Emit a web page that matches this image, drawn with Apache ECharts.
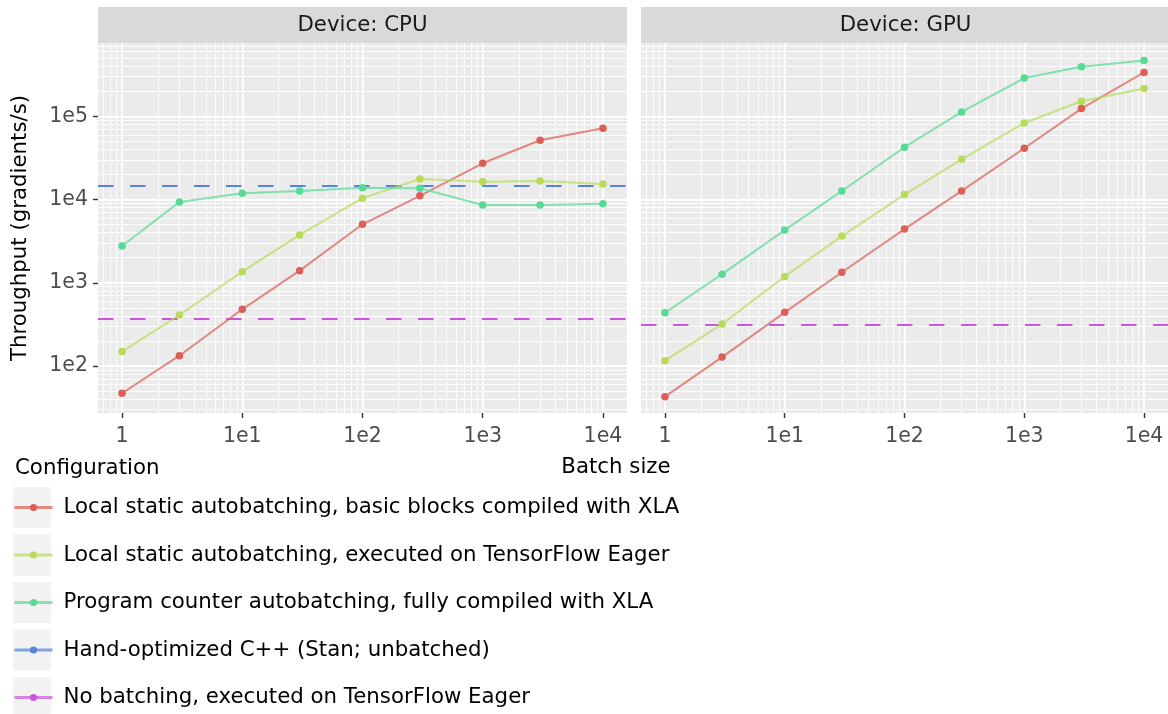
<!DOCTYPE html>
<html><head><meta charset="utf-8">
<script src="https://cdn.jsdelivr.net/npm/echarts@6/dist/echarts.min.js"></script>
<style>html,body{margin:0;padding:0;background:#fff}#c{width:1168px;height:714px}</style>
</head><body><div id="c"></div>
<script>
// ---------------- data ----------------
const batchSizes = [1, 3, 10, 30, 100, 300, 1000, 3000, 10000];
const seriesNames = [
  'Local static autobatching, basic blocks compiled with XLA',
  'Local static autobatching, executed on TensorFlow Eager',
  'Program counter autobatching, fully compiled with XLA',
  'Hand-optimized C++ (Stan; unbatched)',
  'No batching, executed on TensorFlow Eager'
];
const cpuLocalXLA       = [47, 133, 480, 1400, 5050, 11100, 27300, 51700, 72000];
const cpuLocalEager     = [149, 410, 1360, 3760, 10400, 17700, 16400, 16700, 15400];
const cpuProgramCounter = [2770, 9350, 11900, 12700, 13900, 13700, 8600, 8600, 8930];
const cpuStan = 14700;
const cpuNoBatching = 374;
const gpuLocalXLA       = [42.8, 128, 441, 1340, 4420, 12700, 41400, 124000, 338000];
const gpuLocalEager     = [116, 319, 1190, 3640, 11500, 30500, 83400, 152000, 216000];
const gpuProgramCounter = [436, 1270, 4300, 12700, 42600, 113000, 289000, 396000, 471000];
const gpuNoBatching = 310;
const xTicks = [1, 10, 100, 1000, 10000];
const xTickLabels = ['1', '1e1', '1e2', '1e3', '1e4'];
const yTicks = [100, 1000, 10000, 100000];
const yTickLabels = ['1e2', '1e3', '1e4', '1e5'];
const panelTitles = ['Device: CPU', 'Device: GPU'];
const colors = ['#db5f57', '#b9db57', '#57db94', '#5784db', '#c957db'];

// ---------------- layout / style ----------------
const FONT = 'DejaVu Sans';
const TXT = 21.3;
const X_MIN = Math.pow(10, -0.2), X_MAX = Math.pow(10, 4.2);
const Y_MIN = Math.pow(10, 1.435), Y_MAX = Math.pow(10, 5.882);
const panels = [{left: 98, width: 529}, {left: 641, width: 529}];
const TOP = 43, HEIGHT = 370;

function minorBreaks(lo, hi) {
  const out = [];
  for (let e = -2; e <= 7; e++) for (let k = 2; k <= 9; k++) {
    const v = +(k * Math.pow(10, e)).toPrecision(3);
    if (v > lo && v < hi) out.push(v);
  }
  return out;
}
const xMinor = minorBreaks(X_MIN, X_MAX);
const yMinor = minorBreaks(Y_MIN, Y_MAX);

function labelFor(v, ticks, labels) {
  for (let i = 0; i < ticks.length; i++) {
    if (Math.abs(Math.log10(v) - Math.log10(ticks[i])) < 1e-6) return labels[i];
  }
  return '';
}
function pairs(ys) { return batchSizes.map((x, i) => [x, ys[i]]); }

const grids = panels.map(p => ({left: p.left, top: TOP, width: p.width, height: HEIGHT,
  show: true, backgroundColor: '#ebebeb', borderWidth: 0, containLabel: false}));

const xAxes = panels.map((p, i) => ({
  type: 'log', logBase: 10, gridIndex: i, min: X_MIN, max: X_MAX,
  axisLine: {show: false},
  axisTick: {show: true, length: 5, lineStyle: {color: '#333333', width: 1.4}, customValues: xTicks},
  axisLabel: {customValues: xTicks, formatter: v => labelFor(v, xTicks, xTickLabels),
    color: '#4d4d4d', fontSize: 20.5, fontFamily: FONT, margin: 13},
  splitLine: {show: true, lineStyle: {color: '#ffffff', width: 1.8}},
  minorTick: {show: false}, minorSplitLine: {show: false}
}));

const yAxes = panels.map((p, i) => ({
  type: 'log', logBase: 10, gridIndex: i, min: Y_MIN, max: Y_MAX,
  name: i === 0 ? 'Throughput (gradients/s)' : '',
  nameLocation: 'middle', nameGap: 67,
  nameTextStyle: {fontSize: TXT, fontFamily: FONT, color: '#000'},
  axisLine: {show: false},
  axisTick: {show: i === 0, length: 5, lineStyle: {color: '#333333', width: 1.4}, customValues: yTicks},
  axisLabel: {show: i === 0, customValues: yTicks, formatter: v => labelFor(v, yTicks, yTickLabels),
    color: '#4d4d4d', fontSize: 20.5, fontFamily: FONT, margin: 10},
  splitLine: {show: true, lineStyle: {color: '#ffffff', width: 1.8}},
  minorTick: {show: false}, minorSplitLine: {show: false}
}));

const series = [];
// minor grid lines (log-spaced 2..9 breaks), drawn through the axes
panels.forEach((p, i) => {
  series.push({
    type: 'line', name: '__grid' + i, xAxisIndex: i, yAxisIndex: i, data: [], silent: true, z: 1,
    markLine: {silent: true, z: 1, symbol: 'none', animation: false, label: {show: false},
      lineStyle: {color: '#ffffff', width: 0.9, type: 'solid', opacity: 1},
      emphasis: {disabled: true},
      data: xMinor.map(v => ({xAxis: v})).concat(yMinor.map(v => ({yAxis: v})))}
  });
});

function curve(name, color, ys, gi) {
  return {type: 'line', name, xAxisIndex: gi, yAxisIndex: gi, data: pairs(ys), z: 4,
    symbol: 'circle', symbolSize: 7.5, showSymbol: true,
    itemStyle: {color, opacity: 1},
    lineStyle: {color, width: 2, opacity: 0.72},
    emphasis: {disabled: true}};
}
function hline(name, color, val, gi) {
  return {type: 'line', name, xAxisIndex: gi, yAxisIndex: gi, data: [], z: 3,
    symbol: 'circle', symbolSize: 7.5,
    itemStyle: {color}, lineStyle: {color, width: 2, opacity: 0.72},
    markLine: {silent: true, z: 3, symbol: 'none', animation: false, label: {show: false},
      lineStyle: {color, width: 2, type: [15.5, 16.5], opacity: 1},
      emphasis: {disabled: true},
      data: [{yAxis: val}]}};
}

series.push(curve(seriesNames[0], colors[0], cpuLocalXLA, 0));
series.push(curve(seriesNames[1], colors[1], cpuLocalEager, 0));
series.push(curve(seriesNames[2], colors[2], cpuProgramCounter, 0));
series.push(hline(seriesNames[3], colors[3], cpuStan, 0));
series.push(hline(seriesNames[4], colors[4], cpuNoBatching, 0));
series.push(curve(seriesNames[0], colors[0], gpuLocalXLA, 1));
series.push(curve(seriesNames[1], colors[1], gpuLocalEager, 1));
series.push(curve(seriesNames[2], colors[2], gpuProgramCounter, 1));
series.push(hline(seriesNames[4], colors[4], gpuNoBatching, 1));

const keyCenters = [507.5, 555, 602.5, 650, 697.5];
const legends = seriesNames.map((n, i) => ({
  data: [n], orient: 'vertical', left: 13, top: keyCenters[i] - 12, padding: 0,
  itemWidth: 38, itemHeight: 9, selectedMode: false,
  lineStyle: {width: 3},
  textStyle: {fontSize: TXT, fontFamily: FONT, color: '#000', lineHeight: 24, padding: [0, 0, 0, 6]}
}));

const graphics = [];
panels.forEach((p, i) => {
  graphics.push({type: 'rect', shape: {x: p.left, y: 7, width: p.width, height: 36}, style: {fill: '#d9d9d9'}, silent: true});
  graphics.push({type: 'text', x: p.left + 264.5, y: 25,
    style: {text: panelTitles[i], align: 'center', verticalAlign: 'middle', fontSize: TXT, fontFamily: FONT, fill: '#1a1a1a'}, silent: true});
});
keyCenters.forEach(c => {
  graphics.push({type: 'rect', shape: {x: 13, y: c - 20.5, width: 38, height: 41}, style: {fill: '#f2f2f2'}, silent: true, z: -1});
});
graphics.push({type: 'text', x: 616, y: 467, style: {text: 'Batch size', align: 'center', verticalAlign: 'middle', fontSize: TXT, fontFamily: FONT, fill: '#000'}, silent: true});
graphics.push({type: 'text', x: 15, y: 468, style: {text: 'Configuration', align: 'left', verticalAlign: 'middle', fontSize: TXT, fontFamily: FONT, fill: '#000'}, silent: true});

const chart = echarts.init(document.getElementById('c'), null, {renderer: 'canvas'});
chart.setOption({
  animation: false,
  backgroundColor: '#ffffff',
  textStyle: {fontFamily: FONT},
  grid: grids, xAxis: xAxes, yAxis: yAxes,
  legend: legends,
  graphic: graphics,
  series
});
</script></body></html>
